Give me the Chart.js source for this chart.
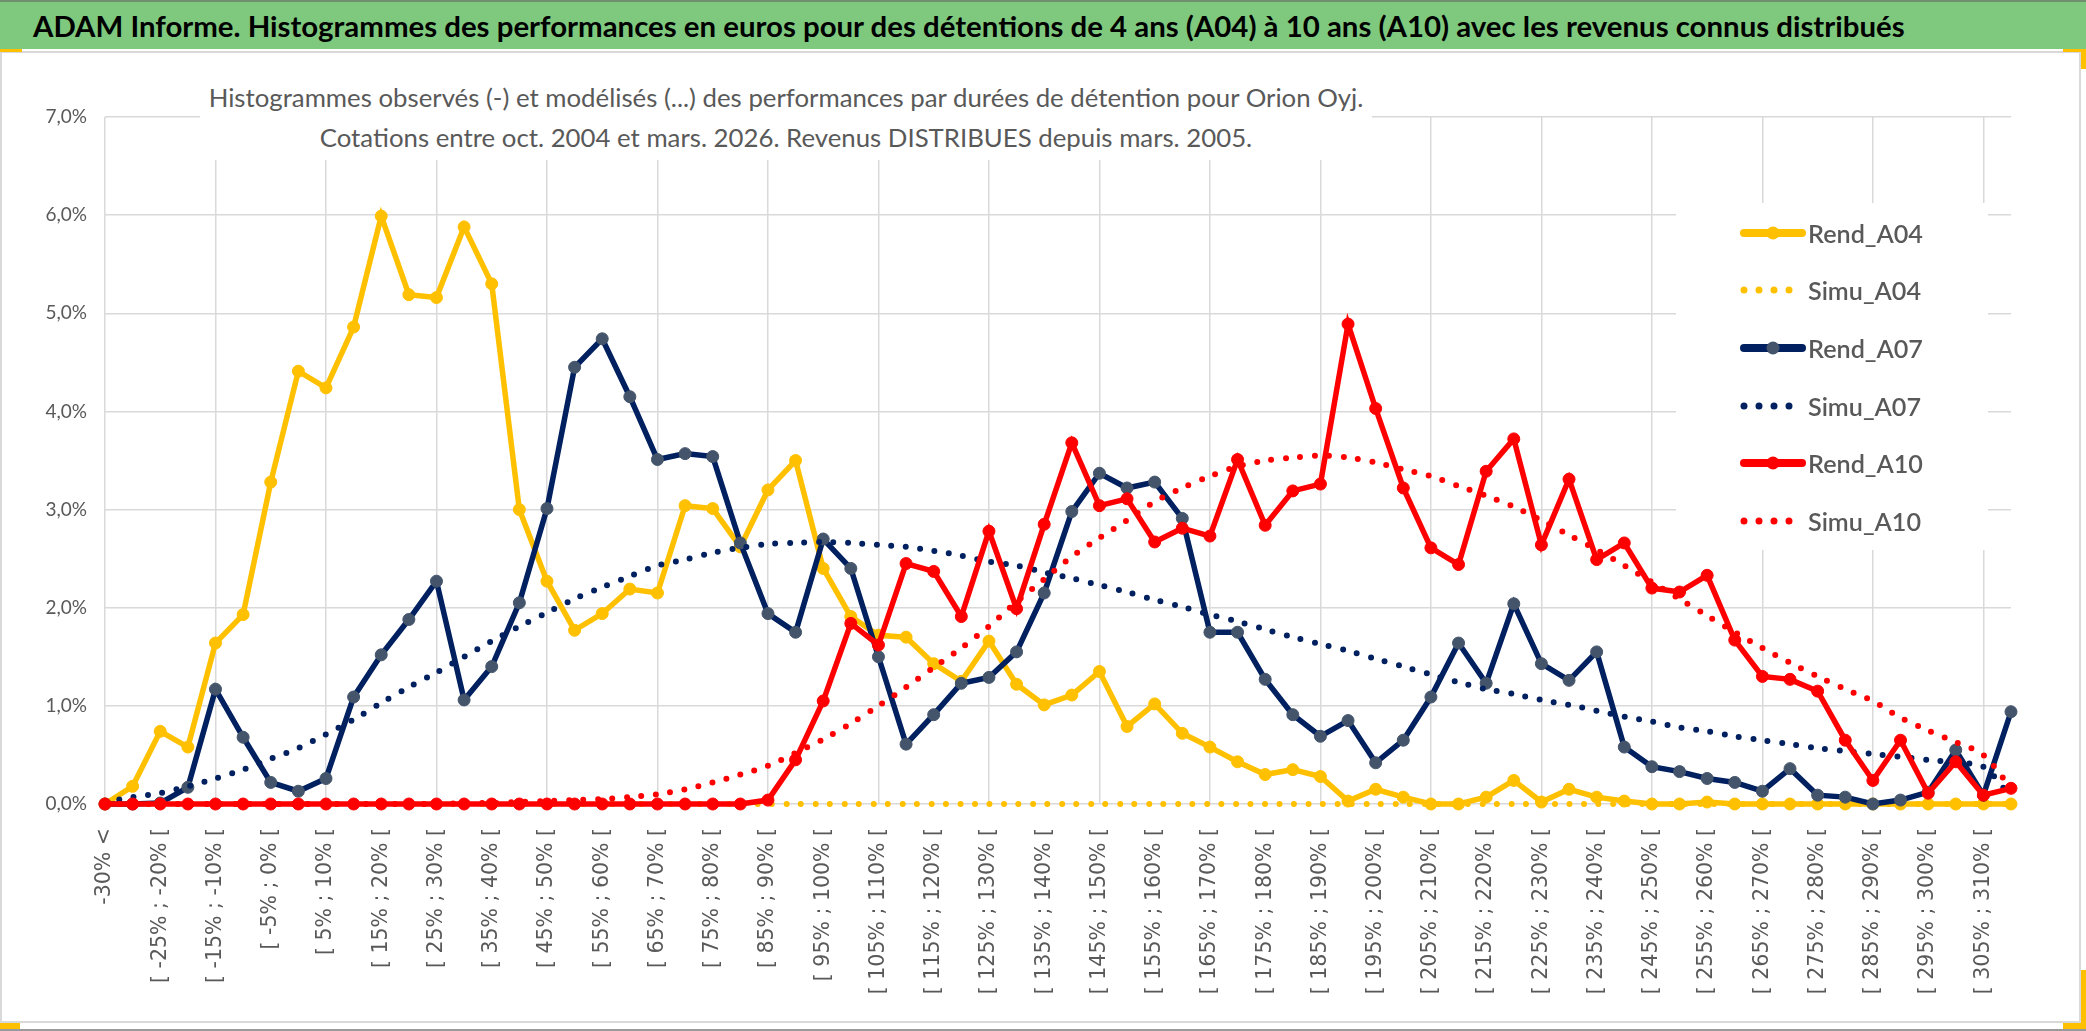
<!DOCTYPE html>
<html lang="fr">
<head>
<meta charset="utf-8">
<title>ADAM Informe - Orion Oyj</title>
<script src="https://cdn.jsdelivr.net/npm/chart.js@4.4.1/dist/chart.umd.min.js"></script>
<style>
    html, body { margin: 0; padding: 0; background: #fff; }
    body { width: 2086px; height: 1031px; position: relative; overflow: hidden; font-family: Lato, 'Open Sans', sans-serif; }
    .banner { position: absolute; left: 0; top: 0; width: 2086px; height: 49px; background: #7fc97f; border-top: 2px solid #6f8f6f; box-sizing: border-box; z-index: 3; }
    .banner span { position: absolute; left: 33px; top: 0; line-height: 47px; font-weight: 700; font-size: 30px; color: #000; white-space: nowrap; }
    .frame { position: absolute; left: 0; top: 51px; width: 2081px; height: 972px; border: 2px solid #d9d9d9; box-sizing: border-box; }
    .sheet-line { position: absolute; left: 0; top: 1029px; width: 2086px; height: 2px; background: #9a9a9a; }
    .handle { position: absolute; background: #FFC000; z-index: 4; }
    .chart-wrap { position: absolute; left: 0; top: 0; width: 2086px; height: 1031px; z-index: 1; }
    .subtitle { position: absolute; left: 200px; top: 62px; width: 1172px; height: 98px; background: #fff; z-index: 2; }
    .subtitle div { position: absolute; left: 0; width: 100%; text-align: center; line-height: 40px; height: 40px; }
    .subtitle span { display: inline-block; white-space: nowrap; color: #595959; font-size: 26px; }
    #legendBox { position: absolute; left: 1676px; top: 203px; width: 312px; height: 347px; background: #fff; z-index: 2; padding-top: 1px; box-sizing: border-box; }
    .legend-row { height: 57.6px; display: flex; align-items: center; }
    .legend-row canvas { margin-left: 64px; width: 66px; height: 18px; }
    .legend-row span { margin-left: 2px; color: #595959; font-weight: 600; white-space: nowrap; }
</style>
</head>
<body>
<div class="banner"><span id="mainTitle">ADAM Informe. Histogrammes des performances en euros pour des détentions de 4 ans (A04) à 10 ans (A10) avec les revenus connus distribués</span></div>
<div class="frame"></div>
<div class="sheet-line"></div>
<!-- Selection handles of the chart object -->
<div class="handle" style="left:0; top:49px; width:22px; height:3px;"></div>
<div class="handle" style="left:2063px; top:49px; width:23px; height:3px;"></div>
<div class="handle" style="left:2081px; top:49px; width:5px; height:20px;"></div>
<div class="handle" style="left:0; top:1023px; width:20px; height:6px;"></div>
<div class="handle" style="left:2063px; top:1023px; width:23px; height:6px;"></div>
<div class="handle" style="left:2081px; top:970px; width:5px; height:59px;"></div>
<div class="chart-wrap"><canvas id="perfChart"></canvas></div>
<div class="subtitle">
    <div style="top: 15px;"><span id="subLine1">Histogrammes observés (-) et modélisés (...) des performances par durées de détention pour Orion Oyj.</span></div>
    <div style="top: 55px;"><span id="subLine2">Cotations entre oct. 2004 et mars. 2026. Revenus DISTRIBUES depuis mars. 2005.</span></div>
</div>
<div id="legendBox"></div>

<script>
// Categories (performance classes)
const categories = [
    '-30% <', '[ -30% ; -25% [', '[ -25% ; -20% [', '[ -20% ; -15% [', '[ -15% ; -10% [', '[ -10% ; -5% [',
    '[ -5% ; 0% [', '[ 0% ; 5% [', '[ 5% ; 10% [', '[ 10% ; 15% [', '[ 15% ; 20% [', '[ 20% ; 25% [',
    '[ 25% ; 30% [', '[ 30% ; 35% [', '[ 35% ; 40% [', '[ 40% ; 45% [', '[ 45% ; 50% [', '[ 50% ; 55% [',
    '[ 55% ; 60% [', '[ 60% ; 65% [', '[ 65% ; 70% [', '[ 70% ; 75% [', '[ 75% ; 80% [', '[ 80% ; 85% [',
    '[ 85% ; 90% [', '[ 90% ; 95% [', '[ 95% ; 100% [', '[ 100% ; 105% [', '[ 105% ; 110% [', '[ 110% ; 115% [',
    '[ 115% ; 120% [', '[ 120% ; 125% [', '[ 125% ; 130% [', '[ 130% ; 135% [', '[ 135% ; 140% [', '[ 140% ; 145% [',
    '[ 145% ; 150% [', '[ 150% ; 155% [', '[ 155% ; 160% [', '[ 160% ; 165% [', '[ 165% ; 170% [', '[ 170% ; 175% [',
    '[ 175% ; 180% [', '[ 180% ; 185% [', '[ 185% ; 190% [', '[ 190% ; 195% [', '[ 195% ; 200% [', '[ 200% ; 205% [',
    '[ 205% ; 210% [', '[ 210% ; 215% [', '[ 215% ; 220% [', '[ 220% ; 225% [', '[ 225% ; 230% [', '[ 230% ; 235% [',
    '[ 235% ; 240% [', '[ 240% ; 245% [', '[ 245% ; 250% [', '[ 250% ; 255% [', '[ 255% ; 260% [', '[ 260% ; 265% [',
    '[ 265% ; 270% [', '[ 270% ; 275% [', '[ 275% ; 280% [', '[ 280% ; 285% [', '[ 285% ; 290% [', '[ 290% ; 295% [',
    '[ 295% ; 300% [', '[ 300% ; 305% [', '[ 305% ; 310% [', '[ 310% ; 315% ['
];

// Series values (% of observations)
const rendA04 = [
    0.00, 0.18, 0.74, 0.58, 1.64, 1.93, 3.28, 4.41, 4.24, 4.86,
    5.99, 5.19, 5.16, 5.88, 5.30, 3.00, 2.27, 1.77, 1.94, 2.19,
    2.15, 3.04, 3.01, 2.62, 3.20, 3.50, 2.40, 1.91, 1.72, 1.70,
    1.43, 1.25, 1.66, 1.22, 1.01, 1.11, 1.35, 0.79, 1.02, 0.72,
    0.58, 0.43, 0.30, 0.35, 0.28, 0.03, 0.15, 0.07, 0.00, 0.00,
    0.07, 0.24, 0.02, 0.15, 0.07, 0.03, 0.00, 0.00, 0.02, 0.00,
    0.00, 0.00, 0.00, 0.00, 0.00, 0.00, 0.00, 0.00, 0.00, 0.00
];
const simuA04 = [
    0, 0, 0, 0, 0, 0, 0, 0, 0, 0,
    0, 0, 0, 0, 0, 0, 0, 0, 0, 0,
    0, 0, 0, 0, 0, 0, 0, 0, 0, 0,
    0, 0, 0, 0, 0, 0, 0, 0, 0, 0,
    0, 0, 0, 0, 0, 0, 0, 0, 0, 0,
    0, 0, 0, 0, 0, 0, 0, 0, 0, 0,
    0, 0, 0, 0, 0, 0, 0, 0, 0, 0
];
const rendA07 = [
    0.00, 0.00, 0.01, 0.17, 1.17, 0.68, 0.22, 0.13, 0.26, 1.09,
    1.52, 1.88, 2.27, 1.06, 1.40, 2.05, 3.01, 4.45, 4.74, 4.15,
    3.51, 3.57, 3.54, 2.66, 1.94, 1.75, 2.70, 2.40, 1.50, 0.61,
    0.91, 1.23, 1.29, 1.55, 2.15, 2.98, 3.37, 3.22, 3.28, 2.91,
    1.75, 1.75, 1.27, 0.91, 0.69, 0.85, 0.42, 0.65, 1.09, 1.64,
    1.23, 2.04, 1.43, 1.26, 1.55, 0.58, 0.38, 0.33, 0.26, 0.22,
    0.13, 0.36, 0.09, 0.07, 0.00, 0.04, 0.12, 0.55, 0.09, 0.94
];
const simuA07 = [
    0.02, 0.07, 0.11, 0.18, 0.26, 0.35, 0.46, 0.57, 0.71, 0.86,
    1.03, 1.19, 1.34, 1.50, 1.66, 1.81, 1.95, 2.09, 2.21, 2.32,
    2.43, 2.49, 2.56, 2.61, 2.65, 2.66, 2.67, 2.66, 2.64, 2.62,
    2.58, 2.53, 2.47, 2.43, 2.36, 2.30, 2.23, 2.16, 2.08, 2.01,
    1.93, 1.86, 1.78, 1.70, 1.63, 1.56, 1.48, 1.40, 1.32, 1.24,
    1.17, 1.12, 1.06, 1.01, 0.95, 0.89, 0.84, 0.78, 0.74, 0.69,
    0.65, 0.61, 0.57, 0.54, 0.51, 0.48, 0.45, 0.42, 0.38, 0.07
];
const rendA10 = [
    0.00, 0.00, 0.00, 0.00, 0.00, 0.00, 0.00, 0.00, 0.00, 0.00,
    0.00, 0.00, 0.00, 0.00, 0.00, 0.00, 0.00, 0.00, 0.00, 0.00,
    0.00, 0.00, 0.00, 0.00, 0.04, 0.45, 1.05, 1.84, 1.62, 2.45,
    2.37, 1.91, 2.78, 1.99, 2.85, 3.68, 3.04, 3.11, 2.67, 2.81,
    2.73, 3.51, 2.84, 3.19, 3.26, 4.89, 4.03, 3.22, 2.61, 2.44,
    3.39, 3.72, 2.64, 3.31, 2.49, 2.66, 2.20, 2.16, 2.33, 1.67,
    1.30, 1.27, 1.15, 0.65, 0.24, 0.65, 0.11, 0.43, 0.09, 0.16
];
const simuA10 = [
    0.00, 0.00, 0.00, 0.00, 0.00, 0.00, 0.00, 0.00, 0.00, 0.00,
    0.00, 0.00, 0.00, 0.01, 0.01, 0.02, 0.03, 0.04, 0.05, 0.07,
    0.10, 0.15, 0.22, 0.30, 0.39, 0.52, 0.66, 0.82, 1.00, 1.19,
    1.39, 1.59, 1.81, 2.06, 2.29, 2.52, 2.71, 2.89, 3.08, 3.22,
    3.34, 3.44, 3.50, 3.53, 3.55, 3.53, 3.48, 3.41, 3.34, 3.24,
    3.14, 3.03, 2.89, 2.74, 2.59, 2.43, 2.26, 2.09, 1.92, 1.75,
    1.59, 1.44, 1.30, 1.17, 1.05, 0.88, 0.75, 0.63, 0.50, 0.16
];

// Y axis range (%)
const yMin = 0;
const yMax = 7;
const yStep = 1;

// Series colors
const GOLD = '#FFC000';
const NAVY = '#002060';
const NAVY_MARKER = '#44546A';
const RED = '#FF0000';

// Chart module
const PerformanceChart = {
    chart: null,

    // Initialize
    init() {
        this.fitTitles();
        this.renderChart();
    },

    // Scale a text element so its width matches the reference
    fitWidth(el, target) {
        const w = el.getBoundingClientRect().width;
        const size = parseFloat(getComputedStyle(el).fontSize);
        if (w > 0) el.style.fontSize = (size * target / w).toFixed(2) + 'px';
        return parseFloat(el.style.fontSize);
    },

    // Fit banner title and subtitle lines
    fitTitles() {
        this.fitWidth(document.getElementById('mainTitle'), 1872);
        const size = this.fitWidth(document.getElementById('subLine1'), 1155);
        document.getElementById('subLine2').style.fontSize = size + 'px';
    },

    // Solid line series with markers
    solidSeries(label, data, color, marker, order) {
        return {
            label: label,
            data: data,
            borderColor: color,
            backgroundColor: color,
            borderWidth: 5.5,
            pointRadius: 6,
            pointHoverRadius: 6,
            pointBackgroundColor: marker,
            pointBorderColor: marker,
            pointBorderWidth: 1,
            tension: 0,
            clip: false,
            order: order
        };
    },

    // Dotted line series (model)
    dottedSeries(label, data, color, order) {
        return {
            label: label,
            data: data,
            borderColor: color,
            backgroundColor: color,
            borderWidth: 6,
            borderDash: [0, 14.5],
            borderCapStyle: 'round',
            pointRadius: 0,
            pointHoverRadius: 0,
            tension: 0.3,
            clip: false,
            order: order
        };
    },

    // HTML legend built from the chart's own legend items
    legendPlugin: {
        id: 'htmlLegend',
        afterUpdate(chart) {
            const box = document.getElementById('legendBox');
            box.innerHTML = '';
            const items = chart.options.plugins.legend.labels.generateLabels(chart)
                .sort((a, b) => a.datasetIndex - b.datasetIndex);

            items.forEach(item => {
                const ds = chart.data.datasets[item.datasetIndex];
                const row = document.createElement('div');
                row.className = 'legend-row';

                const sample = document.createElement('canvas');
                sample.width = 66;
                sample.height = 18;
                const ctx = sample.getContext('2d');
                ctx.strokeStyle = ds.borderColor;
                ctx.lineCap = 'round';
                if (ds.borderDash && ds.borderDash.length) {
                    ctx.lineWidth = 7;
                    ctx.setLineDash([0, 15]);
                    ctx.beginPath();
                    ctx.moveTo(4, 9);
                    ctx.lineTo(64, 9);
                    ctx.stroke();
                } else {
                    ctx.lineWidth = 8;
                    ctx.beginPath();
                    ctx.moveTo(4, 9);
                    ctx.lineTo(62, 9);
                    ctx.stroke();
                    ctx.fillStyle = ds.pointBackgroundColor;
                    ctx.beginPath();
                    ctx.arc(33, 9, 6.5, 0, Math.PI * 2);
                    ctx.fill();
                }

                const text = document.createElement('span');
                text.textContent = item.text;

                row.appendChild(sample);
                row.appendChild(text);
                box.appendChild(row);
            });

            // Match legend text width to the reference
            const first = box.querySelector('span');
            if (first) {
                first.style.fontSize = '28px';
                const w = first.getBoundingClientRect().width;
                const size = (28 * 115 / w).toFixed(2) + 'px';
                box.querySelectorAll('span').forEach(s => { s.style.fontSize = size; });
            }
        }
    },

    // Render chart
    renderChart() {
        const ctx = document.getElementById('perfChart');

        this.chart = new Chart(ctx, {
            type: 'line',
            data: {
                labels: categories,
                datasets: [
                    this.solidSeries('Rend_A04', rendA04, GOLD, GOLD, 6),
                    this.dottedSeries('Simu_A04', simuA04, GOLD, 5),
                    this.solidSeries('Rend_A07', rendA07, NAVY, NAVY_MARKER, 4),
                    this.dottedSeries('Simu_A07', simuA07, NAVY, 3),
                    this.solidSeries('Rend_A10', rendA10, RED, RED, 2),
                    this.dottedSeries('Simu_A10', simuA10, RED, 1)
                ]
            },
            options: {
                responsive: true,
                maintainAspectRatio: false,
                animation: false,
                layout: {
                    padding: { left: 45, top: 117, right: 75, bottom: 27 }
                },
                plugins: {
                    legend: { display: false },
                    title: { display: false },
                    tooltip: { enabled: false }
                },
                scales: {
                    x: {
                        offset: false,
                        afterFit(scale) { scale.height = 200; },
                        border: { display: false },
                        grid: {
                            drawTicks: false,
                            lineWidth: 1.5,
                            color: (c) => (c.index % 4 === 0 ? '#D9D9D9' : 'rgba(0,0,0,0)')
                        },
                        ticks: {
                            autoSkip: false,
                            minRotation: 90,
                            maxRotation: 90,
                            padding: 24,
                            color: '#595959',
                            font: { family: 'DejaVu Sans', size: 20.5 },
                            callback: function(value, index) {
                                return index % 2 === 0 ? this.getLabelForValue(value) : '';
                            }
                        }
                    },
                    y: {
                        min: yMin,
                        max: yMax,
                        afterFit(scale) { scale.width = 60; },
                        border: { display: false },
                        grid: {
                            drawTicks: false,
                            lineWidth: 1.5,
                            color: '#D9D9D9'
                        },
                        ticks: {
                            stepSize: yStep,
                            padding: 18,
                            color: '#595959',
                            font: { family: 'Lato', size: 19 },
                            callback: (value) => value.toFixed(1).replace('.', ',') + '%'
                        }
                    }
                }
            },
            plugins: [this.legendPlugin]
        });
    }
};

PerformanceChart.init();
</script>
</body>
</html>
